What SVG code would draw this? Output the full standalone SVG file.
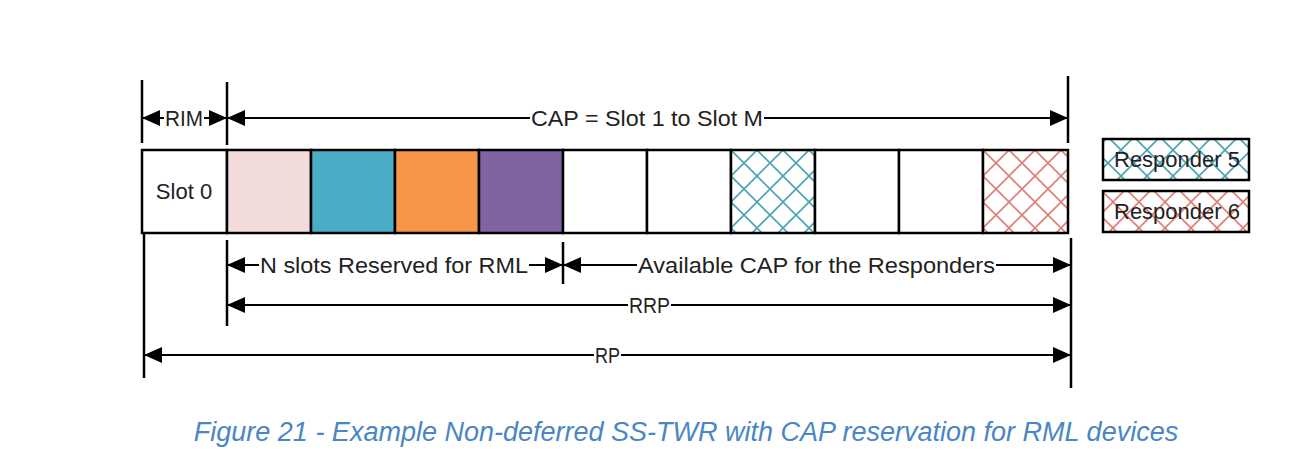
<svg xmlns="http://www.w3.org/2000/svg" width="1308" height="468" viewBox="0 0 1308 468">
<style>
.slot{stroke:#000;stroke-width:2.5}
.dim{stroke:#000;stroke-width:2;fill:none}
.tick{stroke:#000;stroke-width:2.5}
.lbl{font-family:"Liberation Sans",Arial,sans-serif;font-size:22px;fill:#222}
.mid{text-anchor:middle}
.bg{fill:#fff}
.cap{font-family:"Liberation Sans",Arial,sans-serif;font-size:27px;font-style:italic;fill:#4a86c5;text-anchor:middle}
</style>
<defs>
<marker id="ah" viewBox="0 0 18 16" refX="18" refY="8" markerWidth="18" markerHeight="16" markerUnits="userSpaceOnUse" orient="auto-start-reverse">
<path d="M0,0 L18,8 L0,16 z" fill="#000"/>
</marker>
<pattern id="hatchB" patternUnits="userSpaceOnUse" width="26" height="26" x="731" y="150">
<rect width="26" height="26" fill="#fff"/>
<path d="M-1,-1 L27,27 M27,-1 L-1,27" stroke="#4ba3b6" stroke-width="1.6"/>
</pattern>
<pattern id="hatchR" patternUnits="userSpaceOnUse" width="26" height="26" x="983" y="150">
<rect width="26" height="26" fill="#fff"/>
<path d="M-1,-1 L27,27 M27,-1 L-1,27" stroke="#df7d76" stroke-width="1.6"/>
</pattern>
</defs>
<rect width="1308" height="468" fill="#fff"/>

<g id="ticks">
<line class="tick" x1="142" y1="80" x2="142" y2="143"/>
<line class="tick" x1="227" y1="82" x2="227" y2="145"/>
<line class="tick" x1="1068" y1="76" x2="1068" y2="143"/>
<line class="tick" x1="144" y1="233" x2="144" y2="378"/>
<line class="tick" x1="227" y1="240" x2="227" y2="326"/>
<line class="tick" x1="563" y1="242" x2="563" y2="284"/>
<line class="tick" x1="1071" y1="238" x2="1071" y2="388"/>
</g>

<g id="slots">
<rect class="slot" x="142" y="150" width="85" height="83" fill="#fff"/>
<rect class="slot" x="227" y="150" width="84" height="83" fill="#f2dcdb"/>
<rect class="slot" x="311" y="150" width="84" height="83" fill="#4bacc6"/>
<rect class="slot" x="395" y="150" width="84" height="83" fill="#f79646"/>
<rect class="slot" x="479" y="150" width="84" height="83" fill="#8064a2"/>
<rect class="slot" x="563" y="150" width="84" height="83" fill="#fff"/>
<rect class="slot" x="647" y="150" width="84" height="83" fill="#fff"/>
<rect class="slot" x="731" y="150" width="84" height="83" fill="url(#hatchB)"/>
<rect class="slot" x="815" y="150" width="84" height="83" fill="#fff"/>
<rect class="slot" x="899" y="150" width="84" height="83" fill="#fff"/>
<rect class="slot" x="983" y="150" width="85" height="83" fill="url(#hatchR)"/>
<text class="lbl mid" x="184" y="199" font-size="20">Slot 0</text>
</g>

<g id="legend">
<rect class="slot" x="1103" y="139" width="146" height="41" fill="url(#hatchB)"/>
<text class="lbl mid" x="1177" y="167">Responder 5</text>
<rect class="slot" x="1103" y="191" width="146" height="41" fill="url(#hatchR)"/>
<text class="lbl mid" x="1177" y="219">Responder 6</text>
</g>

<g id="connectors">
<line class="dim" x1="142" y1="118" x2="227" y2="118" marker-start="url(#ah)" marker-end="url(#ah)"/>
<line class="dim" x1="227" y1="118" x2="1068" y2="118" marker-start="url(#ah)" marker-end="url(#ah)"/>
<line class="dim" x1="227" y1="265" x2="563" y2="265" marker-start="url(#ah)" marker-end="url(#ah)"/>
<line class="dim" x1="563" y1="265" x2="1071" y2="265" marker-start="url(#ah)" marker-end="url(#ah)"/>
<line class="dim" x1="227" y1="305" x2="1071" y2="305" marker-start="url(#ah)" marker-end="url(#ah)"/>
<line class="dim" x1="144" y1="355" x2="1071" y2="355" marker-start="url(#ah)" marker-end="url(#ah)"/>
</g>

<g id="labels">
<rect class="bg" x="164" y="107" width="40" height="22"/>
<text class="lbl" x="165" y="126" textLength="38" lengthAdjust="spacingAndGlyphs">RIM</text>
<rect class="bg" x="530" y="107" width="234" height="22"/>
<text class="lbl" x="531" y="126" textLength="232" lengthAdjust="spacingAndGlyphs">CAP = Slot 1 to Slot M</text>
<rect class="bg" x="259" y="254" width="270" height="22"/>
<text class="lbl" x="260" y="273" textLength="268" lengthAdjust="spacingAndGlyphs">N slots Reserved for RML</text>
<rect class="bg" x="637" y="254" width="359" height="22"/>
<text class="lbl" x="638" y="273" textLength="357" lengthAdjust="spacingAndGlyphs">Available CAP for the Responders</text>
<rect class="bg" x="628" y="294" width="43" height="22"/>
<text class="lbl" x="629" y="313" textLength="41" lengthAdjust="spacingAndGlyphs">RRP</text>
<rect class="bg" x="594" y="344" width="27" height="22"/>
<text class="lbl" x="595" y="363" textLength="25" lengthAdjust="spacingAndGlyphs">RP</text>
</g>

<text class="cap" x="686" y="441">Figure 21 - Example Non-deferred SS-TWR with CAP reservation for RML devices</text>
</svg>
